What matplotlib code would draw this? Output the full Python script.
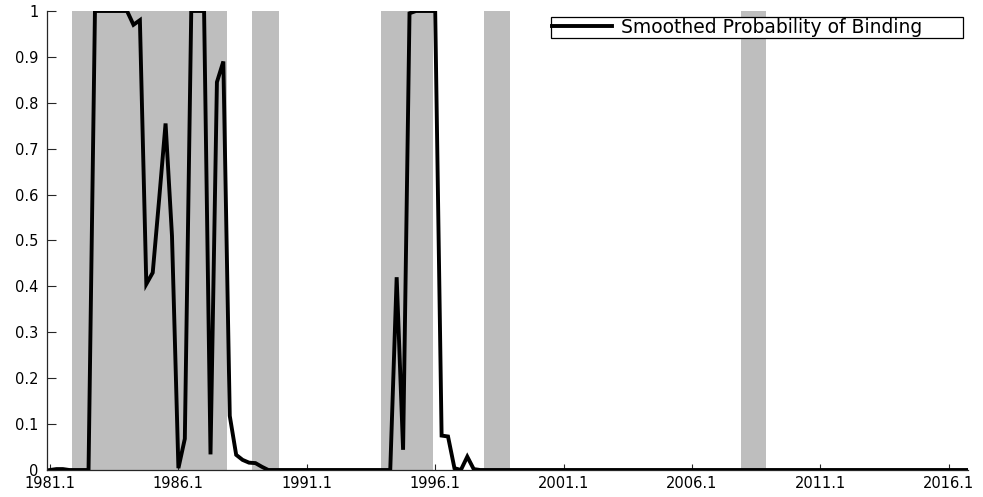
import matplotlib
matplotlib.use("Agg")
import matplotlib.pyplot as plt
import numpy as np

# Quarterly data 1981Q1 - 2016Q4 (index 0..143)
prob_head = [0, 0.002, 0.002, 0, 0, 0, 0, 1, 1, 1, 1, 1, 1, 0.97, 0.98,
             0.405, 0.43, 0.59, 0.755, 0.51, 0.004, 0.068, 1, 1, 1, 0.034,
             0.845, 0.89, 0.118, 0.033, 0.022, 0.016, 0.015, 0.007, 0]
prob_mid_zero = [0] * (53 - 35 + 1)          # quarters 35..53
prob_mid = [0.42, 0.044, 0.995, 1, 1, 1, 1, 0.075, 0.073, 0.004, 0.0,
            0.029, 0.002]                    # quarters 54..66
prob_tail = [0] * (143 - 67 + 1)             # quarters 67..143
prob = prob_head + prob_mid_zero + prob_mid + prob_tail

tick_quarters = [0, 20, 40, 60, 80, 100, 120, 140]
tick_labels = ["1981.1", "1986.1", "1991.1", "1996.1", "2001.1", "2006.1",
               "2011.1", "2016.1"]

shade_start = [3.5, 31.5, 51.5, 67.6, 107.6]
shade_end = [27.6, 35.6, 59.6, 71.6, 111.6]

plt.rcParams['font.family'] = ['DejaVu Sans']

fig = plt.figure(figsize=(9.83, 4.97), dpi=100)
ax = fig.add_axes([47 / 983, 27 / 497, (968 - 47) / 983, 459 / 497])

for s, e in zip(shade_start, shade_end):
    ax.axvspan(s, e, color='#bebebe', lw=0, zorder=1)

t = np.arange(len(prob))
ax.plot(t, prob, color='black', lw=2.8, zorder=3,
        label='Smoothed Probability of Binding', solid_joinstyle='miter')

ax.set_xlim(-0.47, 143)
ax.set_ylim(0, 1)
ax.set_xticks(tick_quarters)
ax.set_xticklabels(tick_labels)
ax.set_yticks(np.round(np.arange(0, 1.01, 0.1), 1))
ax.set_yticklabels([f"{v:g}" for v in np.round(np.arange(0, 1.01, 0.1), 1)])

for sp in ['top', 'right']:
    ax.spines[sp].set_visible(False)
for sp in ['left', 'bottom']:
    ax.spines[sp].set_color('#262626')
    ax.spines[sp].set_linewidth(0.9)
    ax.spines[sp].set_zorder(2)

ax.tick_params(axis='y', direction='in', length=6.5, width=0.8, color='#262626',
               labelsize=10.5, pad=6, labelcolor='black')
ax.tick_params(axis='x', direction='in', length=4.5, width=0.8, color='#262626',
               labelsize=10.5, pad=4, labelcolor='black')

leg = ax.legend(loc='upper left',
                bbox_to_anchor=(551 / 983, 1 - 17 / 497, (963 - 551) / 983, 0),
                bbox_transform=fig.transFigure, mode='expand',
                borderaxespad=0, fontsize=13.5, handlelength=3.2,
                handletextpad=0.5, borderpad=0.05, fancybox=False,
                framealpha=1, edgecolor='black')
leg.get_frame().set_linewidth(0.9)
leg.set_zorder(5)

fig.savefig('out.png', dpi=100)
